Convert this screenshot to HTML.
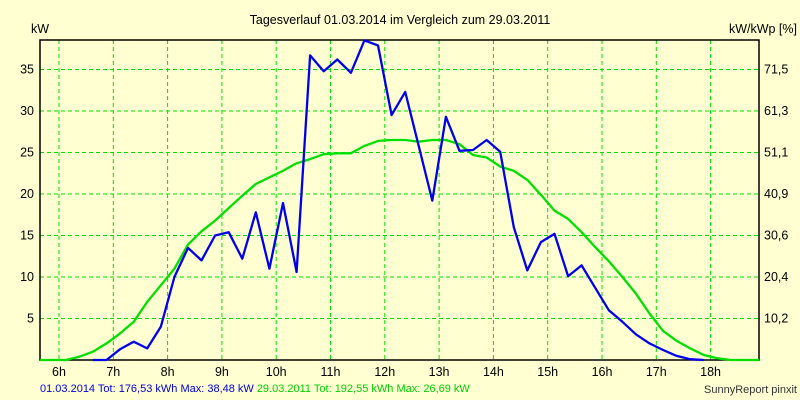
<!DOCTYPE html>
<html><head><meta charset="utf-8"><style>
body{margin:0;background:#ffffd2;}
svg{display:block;font-family:"Liberation Sans",Arial,sans-serif;}
</style></head><body>
<svg id="c" width="800" height="400">
<rect x="0" y="0" width="800" height="400" fill="#ffffd2"/>
<text x="400" y="24" font-size="12.5" text-anchor="middle">Tagesverlauf 01.03.2014 im Vergleich zum 29.03.2011</text>
<text x="31" y="33" font-size="12.5">kW</text>
<text x="797" y="33" font-size="12.5" text-anchor="end">kW/kWp [%]</text>
<g id="grid"></g><g id="axes"></g><g id="series"></g>
<text x="40" y="392" font-size="11"><tspan fill="#0000e0">01.03.2014 Tot: 176,53 kWh Max: 38,48 kW</tspan><tspan fill="#00d000" dx="3">29.03.2011 Tot: 192,55 kWh Max: 26,69 kW</tspan></text>
<text x="797" y="393" font-size="11" text-anchor="end" fill="#333">SunnyReport pinxit</text>
</svg>
<script>
const hourTicks=[6,7,8,9,10,11,12,13,14,15,16,17,18];
const yTicks=[5,10,15,20,25,30,35];
const yTicksRight=["10,2","20,4","30,6","40,9","51,1","61,3","71,5"];
const startHour=6.125;
const stepHours=0.25;
const blue2014=[null,null,0,0,1.3,2.2,1.4,4.0,10.0,13.5,12.0,15.0,15.4,12.2,17.8,11.0,18.9,10.6,36.7,34.8,36.2,34.6,38.5,37.9,29.5,32.3,25.8,19.2,29.3,25.2,25.3,26.5,25.1,16.0,10.8,14.2,15.2,10.1,11.4,8.7,6.0,4.6,3.1,2.0,1.2,0.5,0.1,0];
const green2011=[0,0.4,1.0,2.0,3.2,4.6,7.0,9.0,11.0,13.9,15.5,16.8,18.3,19.8,21.2,22.0,22.8,23.7,24.2,24.8,24.9,24.9,25.8,26.4,26.5,26.5,26.3,26.5,26.5,26.0,24.7,24.4,23.3,22.8,21.7,19.9,18.0,17.0,15.4,13.6,11.9,10.0,8.0,5.6,3.5,2.3,1.4,0.6,0.2,0];
const L=40,R=759,T=40,B=360;
const xs=h=>59+(h-6)*54.3;
const ys=v=>B-v*8.3;
const NS="http://www.w3.org/2000/svg";
function mk(tag,attrs,parent){const e=document.createElementNS(NS,tag);for(const k in attrs)e.setAttribute(k,attrs[k]);parent.appendChild(e);return e;}
const grid=document.getElementById('grid'),axes=document.getElementById('axes'),ser=document.getElementById('series');
hourTicks.forEach(h=>{
  const ln=mk('line',{x1:xs(h),x2:xs(h),y1:T,y2:B,stroke:'#00e000','stroke-dasharray':'4,3'},grid);
  
  
  const t=mk('text',{x:xs(h),y:376,'font-size':12.5,'text-anchor':'middle'},axes);
  t.textContent=h+'h';
  
  
});
yTicks.forEach((v,i)=>{
  const ln=mk('line',{x1:L,x2:R,y1:ys(v),y2:ys(v),stroke:'#00e000','stroke-dasharray':'4,3'},grid);
  
  
  const t=mk('text',{x:34,y:ys(v)+4,'font-size':12.5,'text-anchor':'end'},axes);
  t.textContent=v;
  
  
  const t2=mk('text',{x:764,y:ys(v)+4,'font-size':12.5},axes);
  t2.textContent=yTicksRight[i];
  
  
});
const frame=mk('rect',{x:L,y:T,width:R-L,height:B-T,fill:'none',stroke:'#000','stroke-width':1.5},axes);


function line(arr,color,name,padStart,padEnd){
  let pts=[];
  if(padStart)pts.push([L,ys(0)]);
  arr.forEach((v,i)=>{if(v!==null)pts.push([xs(startHour+i*stepHours),ys(v)]);});
  if(padEnd)pts.push([R,ys(0)]);
  const p=mk('polyline',{points:pts.map(p=>p[0].toFixed(1)+','+p[1].toFixed(1)).join(' '),fill:'none',stroke:color,'stroke-width':2.3,'stroke-linejoin':'round'},ser);
  
  
}
line(green2011,'#00e000','series-2011',true,true);
line(blue2014,'#0000ee','series-2014',false,false);
</script>
</body></html>
